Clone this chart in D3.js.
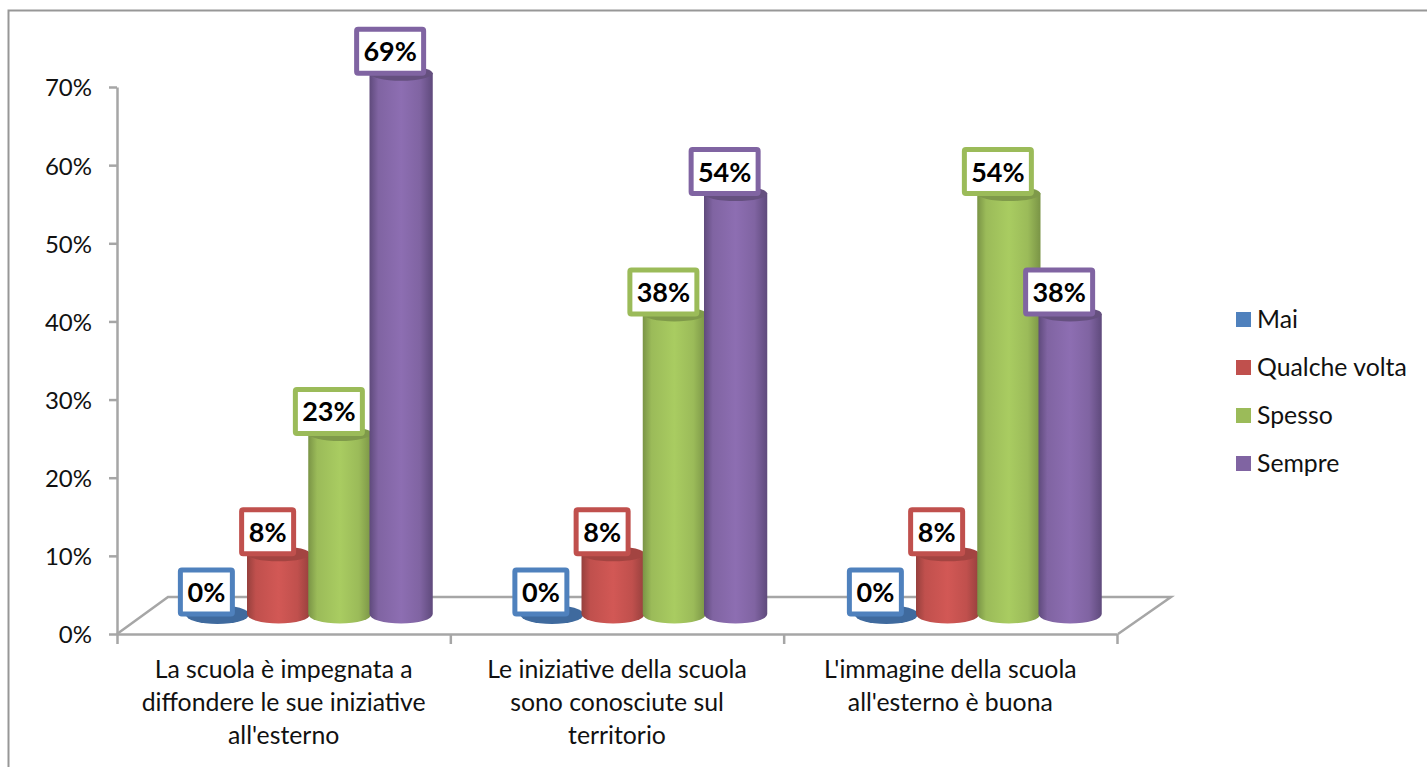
<!DOCTYPE html>
<html><head><meta charset="utf-8">
<script src="https://cdnjs.cloudflare.com/ajax/libs/d3/7.8.5/d3.min.js"></script>
<style>
html,body{margin:0;padding:0;background:#fff;overflow:hidden}
svg{display:block}
text{font-family:Lato,"Open Sans",sans-serif;fill:#111}
</style></head><body>
<svg id="c" width="1427" height="767"></svg>
<script>
const categories = [
  ["La scuola è impegnata a","diffondere le sue iniziative","all'esterno"],
  ["Le iniziative della scuola","sono conosciute sul","territorio"],
  ["L'immagine della scuola","all'esterno è buona"]
];
const seriesNames = ["Mai","Qualche volta","Spesso","Sempre"];
const mai = [0,0,0];
const qualcheVolta = [7.7,7.7,7.7];
const spesso = [23.1,38.4,53.8];
const sempre = [69.2,53.8,38.4];
const seriesValues = [mai,qualcheVolta,spesso,sempre];
const yTicks = [0,10,20,30,40,50,60,70];
const colors = ["#4f81bd","#c0504d","#9bbb59","#8064a2"];
const edgeColors = ["#3c6390","#96403d","#7a9446","#5f4a7c"];
const midColors = ["#5a8fcf","#d25855","#a9cc61","#8d6eb2"];
const topColors = ["#3f6a9e","#a34441","#7f9a4a","#65507f"];

const svg = d3.select("#c");
const axisColor = "#a6a6a6";
const y = d3.scaleLinear().domain([0,70]).range([634,87]);
const edges = d3.scaleLinear().domain([0,3]).range([117,1117]);
const band = d3.scaleBand().domain(d3.range(3)).range([117,1117]);
const barBand = d3.scaleBand().domain(d3.range(3)).range([142.5,1146]);
const inner = d3.scaleBand().domain(d3.range(4)).range([-124,121]);
const depthY = 20, ryTop = 7.5, ryBase = 9.5, barExtra = 2;

// outer frame
svg.append("path").attr("d","M8.5,767V10.5H1427").attr("fill","none").attr("stroke","#979797").attr("stroke-width",2);

// gradients
const defs = svg.append("defs");
colors.forEach((c,i)=>{
  const g = defs.append("linearGradient").attr("id","g"+i);
  [[0,edgeColors[i]],[.14,colors[i]],[.5,midColors[i]],[.8,colors[i]],[1,edgeColors[i]]].forEach(s=>
    g.append("stop").attr("offset",s[0]).attr("stop-color",s[1]));
});

// floor
svg.append("path")
  .attr("d",`M${edges(0)},${y(0)}L${edges(0)+51},597H1171L${edges(3)+1},${y(0)}`)
  .attr("fill","none").attr("stroke",axisColor).attr("stroke-width",2.5);

// axes
const yAxis = svg.append("g").attr("transform","translate(117,0)")
  .call(d3.axisLeft(y).tickValues(yTicks).tickSize(8).tickSizeOuter(0).tickPadding(17).tickFormat(d=>d+"%"));
const xAxis = svg.append("g").attr("transform","translate(0,634)")
  .call(d3.axisBottom(edges).tickValues([0,1,2,3]).tickSize(10).tickSizeOuter(0).tickFormat(""));
[yAxis,xAxis].forEach(a=>{
  a.selectAll(".domain,line").attr("stroke",axisColor).attr("stroke-width",2.5);
});
yAxis.selectAll("text").style("font-size","24px").style("font-family","Lato").attr("fill","#111").attr("dy","0.37em");
svg.selectAll(".tick text").attr("fill","#111");

// cylinders
categories.forEach((cat,ci)=>{
  const cx0 = barBand(ci)+barBand.bandwidth()/2;
  seriesValues.forEach((vals,si)=>{
    const v = vals[ci];
    const l = cx0+inner(si), r = l+inner.bandwidth()+barExtra, rx=(r-l)/2, cx=(l+r)/2;
    const base = y(0)-depthY, top = y(v)-depthY;
    if(v>0){
      svg.append("path")
        .attr("d",`M${l},${top}V${base}A${rx},${ryBase} 0 0 0 ${r},${base}V${top}Z`)
        .attr("fill",`url(#g${si})`);
    }
    svg.append("ellipse").attr("cx",cx).attr("cy",v>0?top:base+.5).attr("rx",rx).attr("ry",v>0?ryTop:ryBase)
      .attr("fill",topColors[si]);
  });
});

// labels above every mark
categories.forEach((cat,ci)=>{
  const cx0 = barBand(ci)+barBand.bandwidth()/2;
  seriesValues.forEach((vals,si)=>{
    const v = vals[ci];
    const cx = cx0+inner(si)+inner.bandwidth()/2-10;
    const top = y(v)-depthY;
    const g = svg.append("g").attr("transform",`translate(${cx},${top-22})`);
    const rect = g.append("rect");
    g.append("text").attr("text-anchor","middle").attr("y",10)
      .style("font-size","27px").style("font-weight","700").style("fill","#000").text(Math.round(v)+"%");
    const w = Math.round(v)>=10?67:52;
    rect.attr("x",-w/2).attr("y",-22).attr("width",w).attr("height",44).attr("rx",1.5)
      .attr("fill","#fff").attr("stroke",colors[si]).attr("stroke-width",5);
  });
});

// category labels
categories.forEach((cat,ci)=>{
  const cx = band(ci)+band.bandwidth()/2;
  const t = svg.append("text").attr("text-anchor","middle").style("font-size","24.8px");
  cat.forEach((line,i)=>t.append("tspan").attr("x",cx).attr("y",678+i*33).text(line));
});

// legend
seriesNames.forEach((n,i)=>{
  const yy = 312+i*48;
  svg.append("rect").attr("x",1236).attr("y",yy).attr("width",15).attr("height",15).attr("fill",colors[i]);
  svg.append("text").attr("x",1257).attr("y",yy+15.5).style("font-size","24.8px").text(n);
});
</script>
</body></html>
